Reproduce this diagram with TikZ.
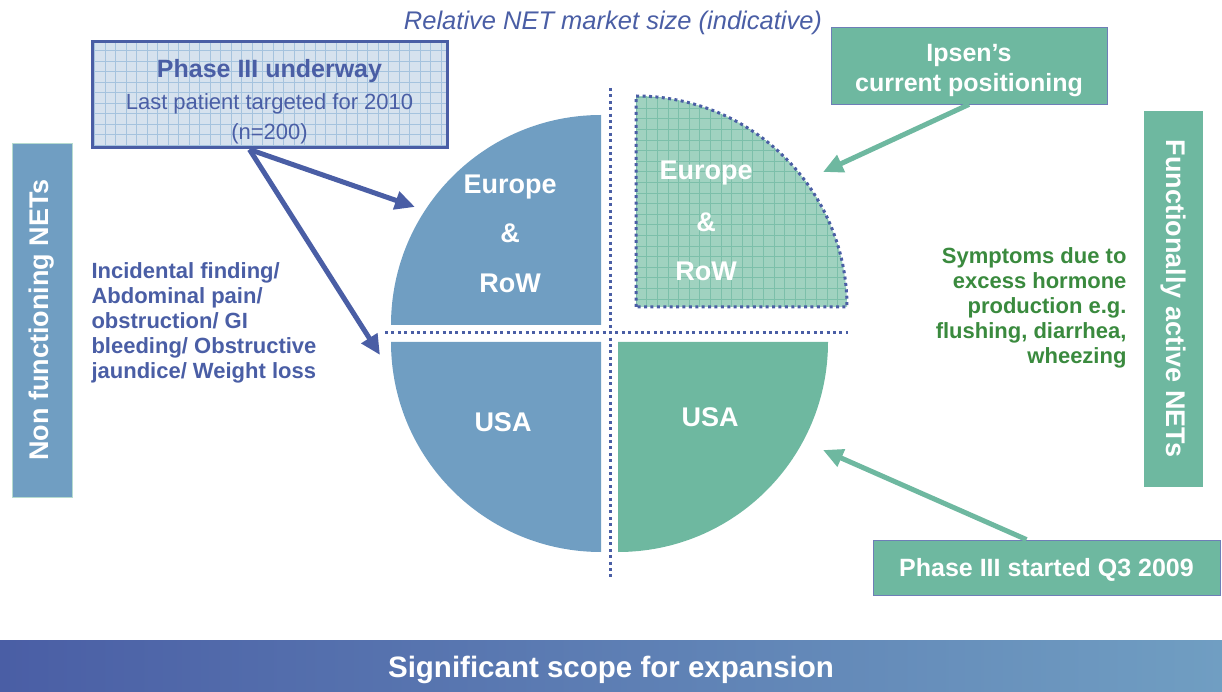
\documentclass[tikz,border=0pt]{standalone}
\usepackage{fontspec}
\setmainfont{Liberation Sans}
\usetikzlibrary{arrows.meta}
\definecolor{netblue}{RGB}{74,94,165}
\definecolor{steelblue}{RGB}{112,158,194}
\definecolor{netteal}{RGB}{110,184,160}
\definecolor{paleteal}{RGB}{160,210,192}
\definecolor{paleblue}{RGB}{214,226,238}
\definecolor{gridblue}{RGB}{165,195,222}
\definecolor{netgreen}{RGB}{58,138,62}
\begin{document}
\begin{tikzpicture}[x=1pt,y=1pt,
  pielbl/.style={text=white,font=\fontsize{27}{32}\selectfont\bfseries},
  tagbox/.style={fill=netteal,draw=netblue!80,line width=0.8pt,text=white,align=center,inner sep=0pt,font=\fontsize{25}{30}\selectfont\bfseries},
  sidebox/.style={inner sep=0pt,minimum height=60pt,line width=0.8pt,text=white,font=\fontsize{27}{32}\selectfont\bfseries},
  bluearrow/.style={netblue,line width=5pt,-{Triangle[length=20pt,width=18pt]}},
  tealarrow/.style={netteal,line width=5pt,-{Triangle[length=20pt,width=18pt]}},
  dotline/.style={netblue,line width=3pt,dash pattern=on 3pt off 3.4pt}]
\useasboundingbox (0,0) rectangle (1222,691);
\fill[steelblue] (601,366) -- (391,366) arc[start angle=180,end angle=90,radius=210pt] -- cycle;
\fill[steelblue] (601,349) -- (601,139) arc[start angle=270,end angle=180,radius=210pt] -- cycle;
\fill[netteal] (618,349) -- (828,349) arc[start angle=0,end angle=-90,radius=210pt] -- cycle;
\fill[paleteal] (636,384) -- (636,595) arc[start angle=90,end angle=0,radius=211pt] -- cycle;
\begin{scope}
\clip (636,384) -- (636,595) arc[start angle=90,end angle=0,radius=211pt] -- cycle;
\draw[netteal!90,line width=0.45pt,step=10.6pt] (630,380) grid (850,600);
\end{scope}
\draw[dotline] (636,384) -- (636,595) arc[start angle=90,end angle=0,radius=211pt] -- cycle;
\draw[dotline] (610,603) -- (610,111);
\draw[dotline] (385,358) -- (848,358);
\node[pielbl] (eurl) at (510,504) {Europe};
\node[pielbl] (ampl) at (510,458) {\&};
\node[pielbl] (rowl) at (510,408) {RoW};
\node[pielbl] (eurr) at (706,518) {Europe};
\node[pielbl] (ampr) at (706,469) {\&};
\node[pielbl] (rowr) at (706,420) {RoW};
\node[pielbl] (usal) at (503,269) {USA};
\node[pielbl] (usar) at (710,274) {USA};
\node[text=netblue,font=\fontsize{25.5}{30}\selectfont\itshape] (title) at (613,668) {Relative NET market size (indicative)};
\fill[paleblue] (92,543) rectangle (447,649);
\begin{scope}
\clip (92,543) rectangle (447,649);
\draw[gridblue,line width=0.6pt,step=10.5pt] (90,540) grid (450,650);
\end{scope}
\node[draw=netblue,line width=3pt,minimum width=355pt,minimum height=106pt,inner sep=0pt] (phase) at (269.5,596) {};
\node[align=center,text=netblue,font=\fontsize{22}{30}\selectfont] (phasetxt) at (269.5,589) {{\fontsize{25}{30}\selectfont\bfseries Phase III underway}\\[2pt]Last patient targeted for 2010\\(n=200)};
\node[sidebox,fill=steelblue,draw=netteal!50,minimum width=354pt,rotate=90] (nonfunc) at (42,371) {Non functioning NETs};
\node[sidebox,fill=netteal,draw=white,minimum width=377pt,rotate=-90] (funcact) at (1173,392.5) {Functionally active NETs};
\node[tagbox,minimum width=276pt,minimum height=77pt] (ipsen) at (969,625.5) {\rule{0pt}{28pt}Ipsen’s\\current positioning};
\node[tagbox,minimum width=347pt,minimum height=55pt] (started) at (1046.5,123.5) {\rule{0pt}{22pt}Phase III started Q3 2009};
\node[anchor=west,align=left,text=netblue,font=\fontsize{22}{25}\selectfont\bfseries] (nonfunctxt) at (88,368) {Incidental finding/\\Abdominal pain/\\obstruction/ GI\\bleeding/ Obstructive\\jaundice/ Weight loss};
\node[anchor=east,align=right,text=netgreen,font=\fontsize{22}{25}\selectfont\bfseries] (functxt) at (1130,383) {Symptoms due to\\excess hormone\\production e.g.\\flushing, diarrhea,\\wheezing};
\node[minimum width=1222pt,minimum height=51pt,inner sep=0pt,left color=netblue,right color=steelblue] (banner) at (611,25.5) {};
\node[text=white,font=\fontsize{29.5}{32}\selectfont\bfseries] (bannertxt) at (611,21) {Significant scope for expansion};
\coordinate (eurltip) at (415,484);
\coordinate (usaltip) at (380,336);
\coordinate (eurrtip) at (823,519);
\coordinate (usartip) at (823,241);
\draw[bluearrow] ([xshift=-20pt]phase.south) -- (eurltip);
\draw[bluearrow] ([xshift=-20pt]phase.south) -- (usaltip);
\draw[tealarrow] (ipsen.south) -- (eurrtip);
\draw[tealarrow] ([xshift=-20pt]started.north) -- (usartip);
\end{tikzpicture}
\end{document}
